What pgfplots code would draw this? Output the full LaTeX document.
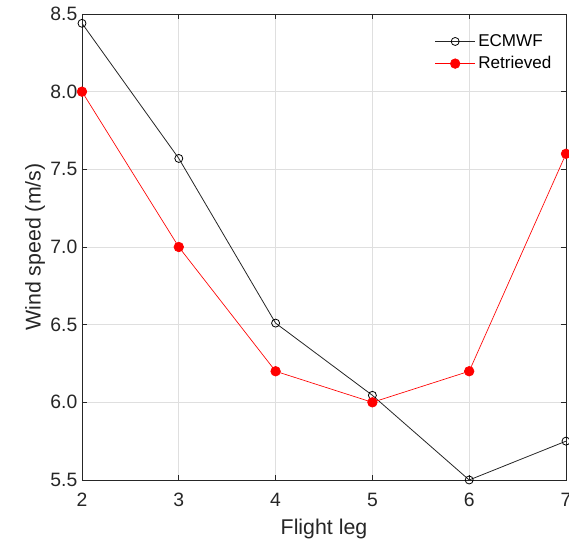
\documentclass[border=0pt]{standalone}
\usepackage{pgfplots}
\pgfplotsset{compat=1.18}
\usepackage{fontspec}
\setmainfont{Liberation Sans}
\definecolor{axgray}{HTML}{262626}
\definecolor{gridgray}{HTML}{DFDFDF}
\begin{document}
\begin{tikzpicture}
\begin{axis}[
  at={(0,0)}, anchor=south west,
  scale only axis, width=363pt, height=349.5pt,
  xmin=2, xmax=7, ymin=5.5, ymax=8.5,
  xtick={2,3,4,5,6,7},
  ytick={5.5,6.0,6.5,7.0,7.5,8.0,8.5},
  /pgf/number format/assume math mode=true,
  yticklabel style={/pgf/number format/fixed,/pgf/number format/fixed zerofill,/pgf/number format/precision=1},
  tick label style={font=\fontsize{14.5}{16}\selectfont, text=axgray},
  xticklabel style={yshift=-6pt},
  xmajorgrids, ymajorgrids,
  grid style={gridgray, line width=0.5pt},
  axis line style={axgray, line width=0.6pt},
  major tick style={axgray, line width=0.6pt},
  tick align=inside,
  major tick length=4pt,
  every axis x label/.style={at={(axis description cs:0.5,0)}, yshift=-37pt, anchor=center, font=\fontsize{16}{18}\selectfont, text=axgray},
  every axis y label/.style={at={(axis description cs:0,0.5)}, xshift=-35.25pt, rotate=90, anchor=center, font=\fontsize{16}{18}\selectfont, text=axgray},
  xlabel={Flight leg},
  ylabel={Wind speed (m/s)},
  legend style={at={(axis description cs:0.984,0.968)}, anchor=north east, draw=none, fill=none, font=\fontsize{12.8}{15}\selectfont, row sep=2pt, legend cell align=left},
  legend image code/.code={\draw[mark repeat=2,mark phase=2,#1] plot coordinates {(0pt,0pt)(15pt,0pt)(30pt,0pt)};},
]
\addplot[color=black!85, line width=0.6pt, mark=o, mark size=3pt, mark options={solid, fill=none, draw=black}] coordinates {
  (2,8.44) (3,7.57) (4,6.51) (5,6.045) (6,5.50) (7,5.75)
};
\addlegendentry{ECMWF}
\addplot[color=red, line width=0.5pt, mark=*, mark size=3.6pt, mark options={solid, fill=red, draw=red}] coordinates {
  (2,8.0) (3,7.0) (4,6.2) (5,6.0) (6,6.2) (7,7.6)
};
\addlegendentry{Retrieved}
\end{axis}
\pgfresetboundingbox
\path[use as bounding box] (-61.5pt,-48.75pt) rectangle (365.25pt,360pt);
\end{tikzpicture}
\end{document}
